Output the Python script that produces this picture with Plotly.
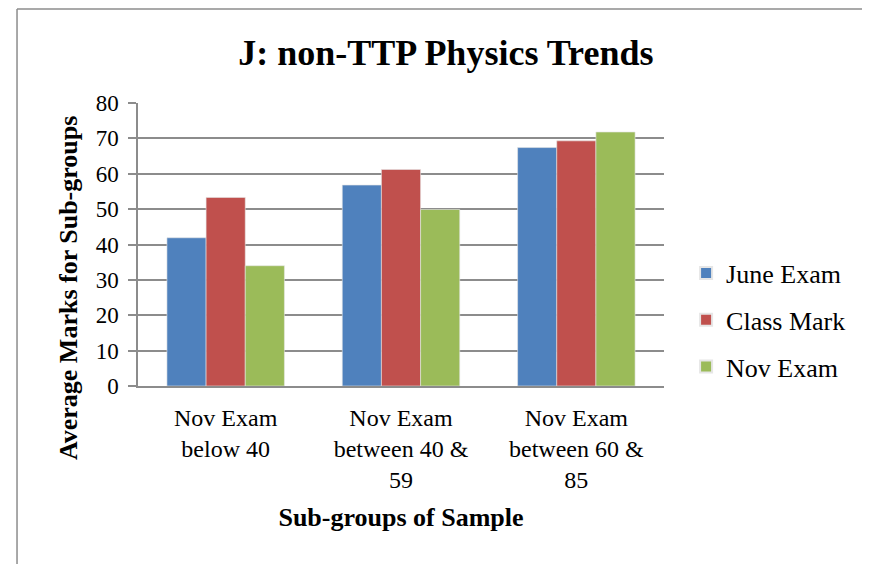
import plotly.graph_objects as go

# sub-groups and averages
groups = ["Nov Exam<br>below 40", "Nov Exam<br>between 40 &<br>59", "Nov Exam<br>between 60 &<br>85"]
june_exam = [41.9, 56.8, 67.4]
class_mark = [53.3, 61.2, 69.3]
nov_exam = [34.0, 49.9, 71.8]

series_names = ["June Exam", "Class Mark", "Nov Exam"]
colors = ["#4F81BD", "#C0504D", "#9BBB59"]

FONT = "Liberation Serif, Times New Roman, serif"
GREY = "#8c8c8c"

fig = go.Figure()
for name, vals, col in zip(series_names, [june_exam, class_mark, nov_exam], colors):
    fig.add_trace(go.Bar(x=groups, y=vals, name=name, legendgroup=name,
                         marker=dict(color=col, line=dict(color="#e6e6e6", width=0.6))))

# chart border (left + top)
fig.add_shape(type="line", xref="paper", yref="paper", x0=-0.230, x1=-0.230, y0=1.332, y1=-0.7,
              line=dict(color=GREY, width=1.5))
fig.add_shape(type="line", xref="paper", yref="paper", x0=-0.230, x1=1.5, y0=1.332, y1=1.332,
              line=dict(color=GREY, width=1.5))

# y-axis title (sits lower than the plot centre in the original)
fig.add_annotation(text="<b>Average Marks for Sub-groups</b>", xref="paper", yref="paper",
                   x=-0.133, y=0.346, xanchor="center", yanchor="middle", textangle=-90,
                   showarrow=False, font=dict(size=26, family=FONT, color="black"))

fig.update_layout(
    width=862, height=556,
    margin=dict(l=130, r=206, t=95, b=178, autoexpand=False),
    paper_bgcolor="white", plot_bgcolor="white",
    barmode="group", bargap=0.33, bargroupgap=0,
    font=dict(family=FONT, color="black", size=22),
    title=dict(text="<b>J: non-TTP Physics Trends</b>", x=0.508, xanchor="center",
               y=0.921, yanchor="middle", font=dict(size=36, family=FONT)),
    legend=dict(x=1.042, y=0.233, xanchor="left", yanchor="middle",
                font=dict(size=26, family=FONT), itemsizing="constant",
                tracegroupgap=10, itemwidth=30),
    showlegend=True,
)

fig.update_xaxes(
    title=dict(text="<b>Sub-groups of Sample</b>", font=dict(size=26, family=FONT), standoff=16),
    showline=True, linecolor=GREY, linewidth=1.5,
    ticks="", tickfont=dict(size=24, family=FONT), ticklabelstandoff=9,
)
fig.update_yaxes(
    range=[0, 80], dtick=10,
    showline=True, linecolor=GREY, linewidth=1.5,
    showgrid=True, gridcolor=GREY, gridwidth=1.5,
    ticks="outside", ticklen=8, tickcolor=GREY, tickwidth=1.5,
    tickfont=dict(size=23, family=FONT), ticklabelstandoff=5,
    zeroline=False,
)

fig.write_html("out.html")
